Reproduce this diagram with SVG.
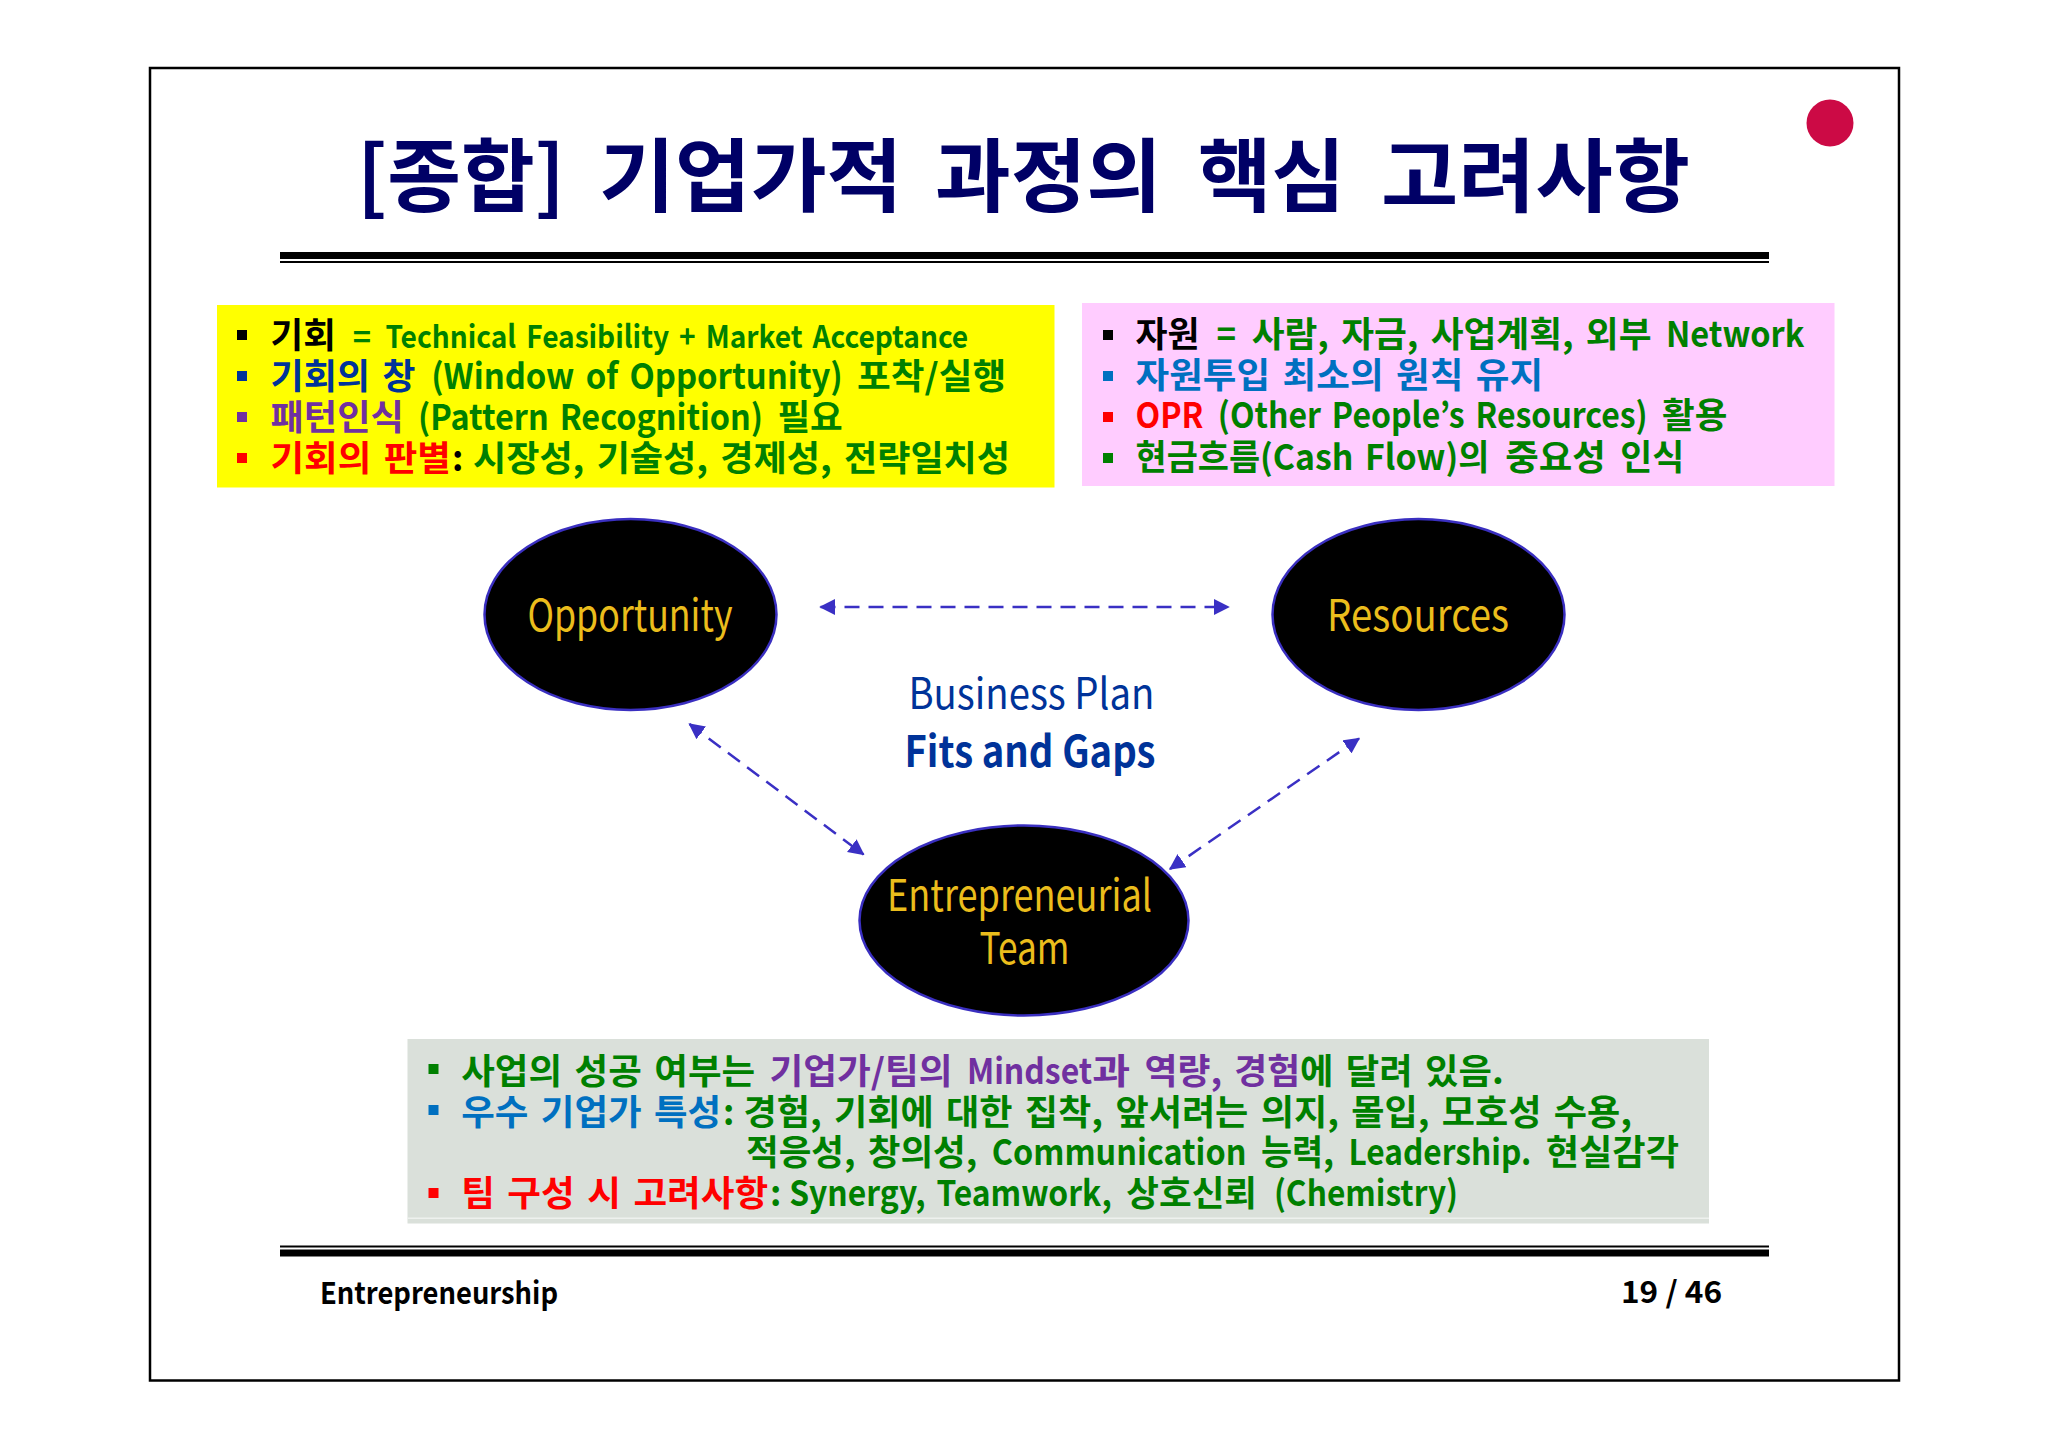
<svg xmlns="http://www.w3.org/2000/svg" width="2048" height="1448" viewBox="0 0 2048 1448">
<style>
text{font-family:"Noto Sans CJK KR","Noto Sans",sans-serif;font-weight:700;fill:#008000}
.l{font-size:35px;word-spacing:4px}
.k{fill:#000}.b{fill:#003399}.c{fill:#0070C0}.p{fill:#7030A0}.r{fill:#FF0000}.g{fill:#008000}
.node{fill:#000;stroke:#3a2fc0;stroke-width:2.5}
.nt{font-size:44px;font-weight:400;fill:#EBBD1C;text-anchor:middle}
.link{fill:none;stroke:#3a30c4;stroke-width:2.5;stroke-dasharray:15 9;marker-start:url(#ah);marker-end:url(#ah)}
</style>
<defs><marker id="ah" viewBox="0 0 12 12" refX="11" refY="6" markerUnits="userSpaceOnUse" markerWidth="16" markerHeight="16" orient="auto-start-reverse"><path d="M0 0L12 6L0 12Z" fill="#3a30c4"/></marker></defs>
<rect width="2048" height="1448" fill="#fff"/>
<rect x="150" y="68" width="1749" height="1312.5" fill="#fff" stroke="#000" stroke-width="2.5"/>
<circle cx="1830" cy="123" r="23.5" fill="#CC0A45"/>
<text id="title" y="205" font-size="80" style="fill:#000066"><tspan x="357" textLength="208" lengthAdjust="spacingAndGlyphs">[종합]</tspan><tspan x="599" textLength="303.5" lengthAdjust="spacingAndGlyphs">기업가적</tspan><tspan x="935" textLength="227" lengthAdjust="spacingAndGlyphs">과정의</tspan><tspan x="1198" textLength="147" lengthAdjust="spacingAndGlyphs">핵심</tspan><tspan x="1381" textLength="309" lengthAdjust="spacingAndGlyphs">고려사항</tspan></text>
<rect x="280" y="252" width="1489" height="7" fill="#000"/><rect x="280" y="261" width="1489" height="2" fill="#000"/>
<g id="box-opportunity"><rect x="217" y="305" width="837.5" height="182.5" fill="#FFFF00"/>
<rect x="237" y="330" width="10" height="10" class="k"/><rect x="237" y="371" width="10" height="10" class="b"/><rect x="237" y="412" width="10" height="10" class="p"/><rect x="237" y="453" width="10" height="10" class="r"/>
<text class="l" y="348"><tspan class="k" x="270.5" textLength="65.3" lengthAdjust="spacingAndGlyphs">기회</tspan><tspan x="352.8" textLength="18.3" lengthAdjust="spacingAndGlyphs" font-size="30">=</tspan><tspan x="385.4" textLength="582.8" lengthAdjust="spacingAndGlyphs" font-size="31">Technical Feasibility + Market Acceptance</tspan></text>
<text class="l" y="389"><tspan class="b" x="270.5" textLength="145" lengthAdjust="spacingAndGlyphs">기회의 창</tspan><tspan x="431.2" textLength="411.6" lengthAdjust="spacingAndGlyphs">(Window of Opportunity)</tspan><tspan x="857.1" textLength="149" lengthAdjust="spacingAndGlyphs">포착/실행</tspan></text>
<text class="l" y="430"><tspan class="p" x="270.5" textLength="133.3" lengthAdjust="spacingAndGlyphs">패턴인식</tspan><tspan x="418.1" textLength="345" lengthAdjust="spacingAndGlyphs">(Pattern Recognition)</tspan><tspan x="777.4" textLength="65.3" lengthAdjust="spacingAndGlyphs">필요</tspan></text>
<text class="l" y="471"><tspan class="r" x="270.5" textLength="180.3" lengthAdjust="spacingAndGlyphs">기회의 판별</tspan><tspan class="k" x="452">:</tspan><tspan x="473" textLength="537" lengthAdjust="spacingAndGlyphs">시장성, 기술성, 경제성, 전략일치성</tspan></text></g>
<g id="box-resources"><rect x="1082" y="303" width="752.5" height="183" fill="#FFCCFF"/>
<rect x="1103" y="330" width="10" height="10" class="k"/><rect x="1103" y="371" width="10" height="10" class="c"/><rect x="1103" y="412" width="10" height="10" class="r"/><rect x="1103" y="453" width="10" height="10" class="g"/>
<text class="l" y="347"><tspan class="k" x="1135.5" textLength="64" lengthAdjust="spacingAndGlyphs">자원</tspan><tspan x="1216.4" textLength="19.6" lengthAdjust="spacingAndGlyphs">=</tspan><tspan x="1251.7" textLength="399.8" lengthAdjust="spacingAndGlyphs">사람, 자금, 사업계획, 외부</tspan><tspan x="1665.9" textLength="138.5" lengthAdjust="spacingAndGlyphs">Network</tspan></text>
<text class="l c" x="1135.5" y="388" textLength="407.7" lengthAdjust="spacingAndGlyphs">자원투입 최소의 원칙 유지</text>
<text class="l" y="428"><tspan class="r" x="1135.5" textLength="68" lengthAdjust="spacingAndGlyphs">OPR</tspan><tspan x="1217.8" textLength="429.9" lengthAdjust="spacingAndGlyphs">(Other People’s Resources)</tspan><tspan x="1662" textLength="65.3" lengthAdjust="spacingAndGlyphs">활용</tspan></text>
<text class="l" y="470"><tspan x="1135.5" textLength="354" lengthAdjust="spacingAndGlyphs">현금흐름(Cash Flow)의</tspan><tspan x="1505.2" textLength="100.6" lengthAdjust="spacingAndGlyphs">중요성</tspan><tspan x="1620.2" textLength="64" lengthAdjust="spacingAndGlyphs">인식</tspan></text></g>
<g id="connectors">
<line class="link" x1="820.5" y1="607" x2="1228.5" y2="607"/>
<line class="link" x1="689.5" y1="724" x2="863.5" y2="854.5"/>
<line class="link" x1="1359" y1="738.5" x2="1170" y2="869"/>
</g>
<g id="node-opportunity"><ellipse class="node" cx="630.5" cy="614.5" rx="146" ry="95.5"/><text class="nt" x="630" y="630.5" textLength="205" lengthAdjust="spacingAndGlyphs">Opportunity</text></g>
<g id="node-resources"><ellipse class="node" cx="1418.5" cy="614.5" rx="146" ry="95.5"/><text class="nt" x="1418" y="630.5" textLength="182" lengthAdjust="spacingAndGlyphs">Resources</text></g>
<g id="node-team"><ellipse class="node" cx="1024" cy="920.5" rx="164.5" ry="95"/><text class="nt" x="1019.5" y="911" textLength="265" lengthAdjust="spacingAndGlyphs">Entrepreneurial</text><text class="nt" x="1024.5" y="964" textLength="90" lengthAdjust="spacingAndGlyphs">Team</text></g>
<text id="plan" x="1031.4" y="709" font-size="43" text-anchor="middle" textLength="246" lengthAdjust="spacingAndGlyphs" style="font-weight:400;fill:#003399">Business Plan</text>
<text id="gaps" x="1030" y="767" font-size="43" text-anchor="middle" textLength="251" lengthAdjust="spacingAndGlyphs" style="fill:#003399">Fits and Gaps</text>
<g id="box-team"><rect x="407.5" y="1039" width="1301.5" height="184.5" fill="#DAE0DA"/><rect x="407.5" y="1217.5" width="1301.5" height="1.5" fill="#EEF1EE"/>
<rect x="428.5" y="1064" width="10" height="10" class="g"/><rect x="428.5" y="1105" width="10" height="10" class="c"/><rect x="428.5" y="1188" width="10" height="10" class="r"/>
<text class="l" y="1084"><tspan x="461.2" textLength="294" lengthAdjust="spacingAndGlyphs">사업의 성공 여부는</tspan><tspan class="p" x="769.6" textLength="183" lengthAdjust="spacingAndGlyphs">기업가/팀의</tspan><tspan class="p" x="966.9" textLength="125.4" lengthAdjust="spacingAndGlyphs">Mindset</tspan><tspan class="p" x="1092.3" textLength="37.9" lengthAdjust="spacingAndGlyphs">과</tspan><tspan class="p" x="1144.6" textLength="155.5" lengthAdjust="spacingAndGlyphs">역량, 경험</tspan><tspan x="1300" textLength="203.8" lengthAdjust="spacingAndGlyphs">에 달려 있음.</tspan></text>
<text class="l" y="1125"><tspan class="c" x="461.2" textLength="260" lengthAdjust="spacingAndGlyphs">우수 기업가 특성</tspan><tspan x="723">:</tspan><tspan x="743.5" textLength="888.5" lengthAdjust="spacingAndGlyphs">경험, 기회에 대한 집착, 앞서려는 의지, 몰입, 모호성 수용,</tspan></text>
<text class="l" y="1165"><tspan x="746" textLength="231.3" lengthAdjust="spacingAndGlyphs">적응성, 창의성,</tspan><tspan x="991.7" textLength="254.8" lengthAdjust="spacingAndGlyphs">Communication</tspan><tspan x="1260.9" textLength="73.2" lengthAdjust="spacingAndGlyphs">능력,</tspan><tspan x="1348.4" textLength="182.9" lengthAdjust="spacingAndGlyphs">Leadership.</tspan><tspan x="1545.7" textLength="133.3" lengthAdjust="spacingAndGlyphs">현실감각</tspan></text>
<text class="l" y="1206"><tspan class="r" x="461.2" textLength="307" lengthAdjust="spacingAndGlyphs">팀 구성 시 고려사항</tspan><tspan x="770">:</tspan><tspan x="789.2" textLength="322.7" lengthAdjust="spacingAndGlyphs">Synergy, Teamwork,</tspan><tspan x="1126.3" textLength="130.7" lengthAdjust="spacingAndGlyphs">상호신뢰</tspan><tspan x="1273.9" textLength="184.2" lengthAdjust="spacingAndGlyphs">(Chemistry)</tspan></text></g>
<rect x="280" y="1245.5" width="1489" height="2" fill="#000"/><rect x="280" y="1249.5" width="1489" height="7" fill="#000"/>
<text id="footer" x="320" y="1304" font-size="30" textLength="238" lengthAdjust="spacingAndGlyphs" class="k">Entrepreneurship</text>
<text id="page" x="1621" y="1302.5" font-size="30" textLength="101" lengthAdjust="spacingAndGlyphs" class="k">19 / 46</text>
</svg>
